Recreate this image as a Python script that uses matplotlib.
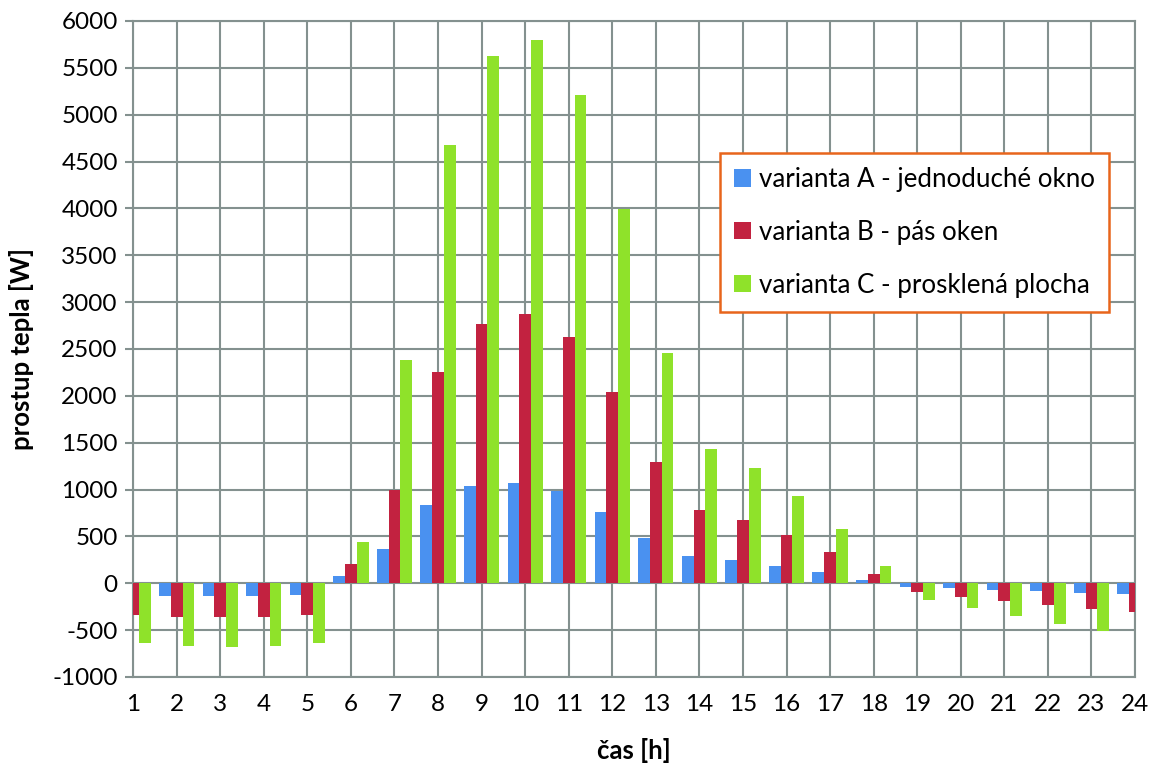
import numpy as np
import matplotlib
matplotlib.use("Agg")
import matplotlib.pyplot as plt

plt.rcParams['font.family'] = ['Lato', 'DejaVu Sans']
plt.rcParams['axes.unicode_minus'] = False

# hodiny a prostup tepla pro jednotlive varianty [W]
hours = list(range(1, 25))
var_a = [-130, -136, -136, -136, -125, 78, 365, 834, 1035, 1071, 982, 762,
         480, 293, 250, 186, 122, 32, -35, -53, -71, -85, -103, -117]
var_b = [-340, -356, -360, -356, -340, 205, 993, 2250, 2770, 2876, 2624, 2042,
         1290, 786, 671, 518, 336, 96, -96, -142, -188, -231, -271, -306]
var_c = [-633, -665, -676, -665, -633, 437, 2382, 4678, 5624, 5792, 5214, 3989,
         2460, 1428, 1225, 936, 579, 181, -175, -263, -348, -431, -509, -560]
labels = ['varianta A - jednoduché okno', 'varianta B - pás oken',
          'varianta C - prosklená plocha']
colors = ['#4A91F0', '#C22240', '#8FE22A']

fig = plt.figure(figsize=(11.52, 7.69), dpi=100)
ax = fig.add_axes([0.1155, 0.1197, 0.8698, 0.853])

x = np.array(hours)
w = 0.27
for i, (vals, lab, col) in enumerate(zip([var_a, var_b, var_c], labels, colors)):
    ax.bar(x + (i - 1) * w, vals, width=w, color=col, label=lab, zorder=3)

grid_col = '#84918F'
ax.set_xlim(1, 24)
ax.set_ylim(-1000, 6000)
ax.set_xticks(hours)
ax.set_yticks(np.arange(-1000, 6001, 500))
ax.grid(True, color=grid_col, linewidth=1.5, zorder=0)
for s in ax.spines.values():
    s.set_color(grid_col)
    s.set_linewidth(1.5)
ax.tick_params(axis='x', length=0, pad=12, labelsize=17.5)
ax.tick_params(axis='y', length=6, width=1.5, color=grid_col, pad=5, labelsize=17.5)

ax.set_xlabel('čas [h]', fontsize=18.5, fontweight='bold', labelpad=17)
ax.set_ylabel('prostup tepla [W]', fontsize=18.5, fontweight='bold', labelpad=13)

leg = ax.legend(loc='upper left', bbox_to_anchor=(0.586, 0.799), fontsize=18.6,
                frameon=True, fancybox=False, handlelength=0.65, handleheight=0.65,
                handletextpad=0.3, labelspacing=1.08, borderpad=0.55,
                borderaxespad=0)
leg.get_frame().set_edgecolor('#E8651C')
leg.get_frame().set_linewidth(1.8)
leg.get_frame().set_alpha(1)
leg.set_zorder(5)

fig.savefig('out.png', dpi=100)
